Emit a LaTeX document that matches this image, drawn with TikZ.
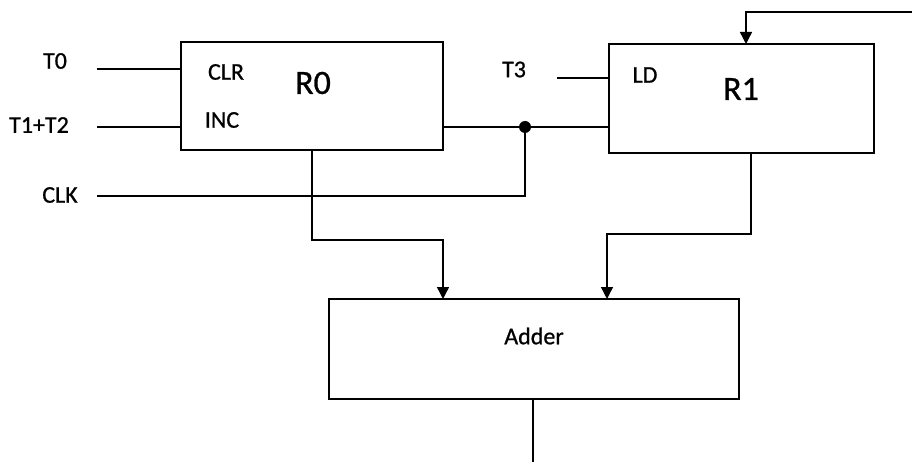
\documentclass[tikz,border=0pt]{standalone}
\usepackage{fontspec}
\setmainfont{Carlito}[FakeBold=0.8]
\usetikzlibrary{arrows.meta}
\begin{document}
\begin{tikzpicture}[x=1pt,y=-1pt,
  regbox/.style={draw,line width=2.4pt,inner sep=0pt,outer sep=0pt},
  wire/.style={line width=1.4pt},
  arr/.style={wire,-{Triangle[length=12pt,width=12pt]}},
  lbl/.style={font=\fontsize{24}{28}\selectfont,inner sep=0pt},
  biglbl/.style={font=\fontsize{34}{40}\selectfont,inner sep=0pt},
  dotnode/.style={circle,fill,minimum size=12pt,inner sep=0pt}]
\useasboundingbox (0,0) rectangle (912,462);
% boxes
\node[regbox,minimum width=262pt,minimum height=108pt] (R0) at (312,96) {};
\node[regbox,minimum width=265pt,minimum height=109pt] (R1) at (741.5,98.5) {};
\node[regbox,minimum width=410pt,minimum height=100pt] (Add) at (534,349) {};
% labels
\node[lbl] (t0) at (55,61) {T0};
\node[lbl] (t12) at (39,125) {T1+T2};
\node[lbl] (clk) at (60,195) {CLK};
\node[lbl] (t3) at (514,69.5) {T3};
\node[lbl] (clr) at (226,72) {CLR};
\node[lbl] (inc) at (222,120) {INC};
\node[lbl] (ld) at (645,75) {LD};
\node[biglbl] (r0l) at (313,83) {R0};
\node[biglbl] (r1l) at (741,89) {R1};
\node[lbl] (addl) at (534,336) {Adder};
% coordinates
\coordinate (t0s) at (97,69);
\coordinate (t12s) at (97,127);
\coordinate (clks) at (97,196);
\coordinate (t3s) at (557,78);
\node[dotnode] (dot) at (525,127) {};
\coordinate (fbs) at (912,12);
\coordinate (fbx) at (746,12);
\coordinate (r0o) at (312,150);
\coordinate (r0c) at (312,240);
\coordinate (r0a) at (443,240);
\coordinate (r1o) at (751,153);
\coordinate (r1c) at (751,234);
\coordinate (r1a) at (607,234);
\coordinate (outb) at (533,462);
% wires
\draw[wire] (t0s) -- (t0s -| R0.west);
\draw[wire] (t12s) -- (t12s -| R0.west);
\draw[wire] (t3s) -- (t3s -| R1.west);
\draw[wire] (dot.center -| R0.east) -- (dot.center) -- (dot.center -| R1.west);
\draw[wire] (clks) -- (clks -| dot.center) -- (dot.center);
\draw[arr] (fbs) -- (fbx) -- (fbx |- R1.north);
\draw[arr] (r0o) -- (r0c) -- (r0a) -- (r0a |- Add.north);
\draw[arr] (r1o) -- (r1c) -- (r1a) -- (r1a |- Add.north);
\draw[wire] (outb |- Add.south) -- (outb);
\end{tikzpicture}
\end{document}
